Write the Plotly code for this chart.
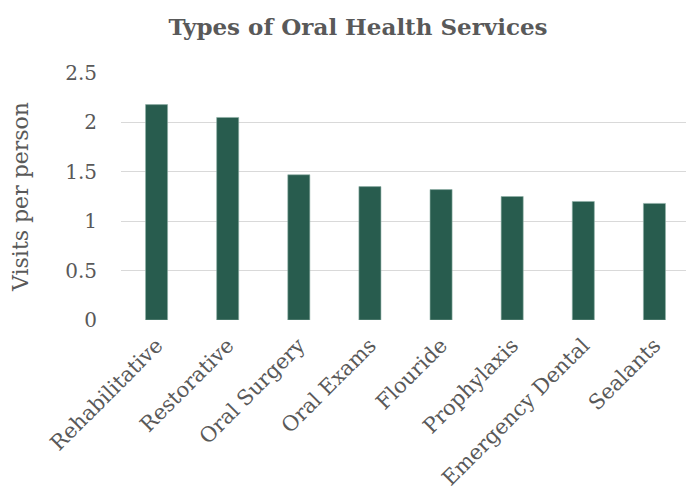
import plotly.graph_objects as go

categories = ["Rehabilitative", "Restorative", "Oral Surgery", "Oral Exams",
              "Flouride", "Prophylaxis", "Emergency Dental", "Sealants"]
visits = [2.18, 2.05, 1.47, 1.35, 1.32, 1.25, 1.20, 1.18]
y_ticks = [0, 0.5, 1, 1.5, 2, 2.5]
y_tick_labels = ["0", "0.5", "1", "1.5", "2", "2.5"]

FONT = "DejaVu Serif"
GREY = "#595959"
OFF = 8  # page body margin offset

fig = go.Figure(go.Bar(
    x=categories, y=visits,
    marker=dict(color="#285c4e", line=dict(color="#8fb0a6", width=0.6)),
    width=0.31,
))

fig.update_layout(
    width=694, height=494,
    margin=dict(l=121 - OFF, r=4 + OFF, t=73 - OFF, b=174 + OFF, autoexpand=False),
    paper_bgcolor="white", plot_bgcolor="white",
    showlegend=False,
    title=dict(text="<b>Types of Oral Health Services</b>",
               x=(358 - OFF)/694, xref="container", xanchor="center",
               y=1-(27 - OFF)/494, yref="container", yanchor="middle",
               font=dict(family=FONT, size=23, color=GREY)),
    font=dict(family=FONT, color=GREY),
)
fig.update_xaxes(tickangle=-45, tickfont=dict(size=21, color=GREY),
                 showline=False, showgrid=False, ticks="", ticklabelstandoff=8)
fig.update_yaxes(range=[0, 2.5], tickvals=y_ticks, ticktext=y_tick_labels,
                 tickfont=dict(size=20, color=GREY), showgrid=True,
                 gridcolor="#d9d9d9", gridwidth=1.3, zeroline=False,
                 ticks="", ticklabelstandoff=23,
                 title=dict(text="Visits per person", font=dict(size=22, color=GREY),
                            standoff=30))

fig.write_html("out.html")
